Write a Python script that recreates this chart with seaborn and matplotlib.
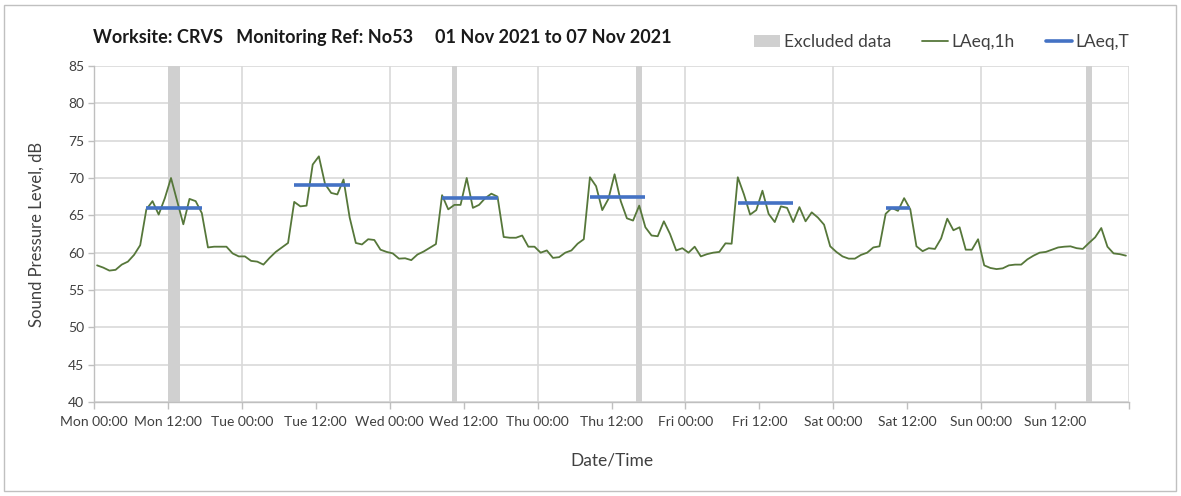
import numpy as np
import pandas as pd
import matplotlib
matplotlib.use("Agg")
import matplotlib.pyplot as plt
import seaborn as sns
from matplotlib.patches import Patch, Rectangle
from matplotlib.lines import Line2D

# ---------------- data ----------------
days = ["Mon", "Tue", "Wed", "Thu", "Fri", "Sat", "Sun"]

laeq_1h = [
    # Mon
    58.3, 58.0, 57.6, 57.7, 58.4, 58.8, 59.7, 61.0, 65.8, 66.9, 65.1, 67.3,
    70.0, 66.9, 63.8, 67.2, 66.9, 65.3, 60.7, 60.8, 60.8, 60.8, 59.9, 59.5,
    # Tue
    59.5, 58.9, 58.8, 58.4, 59.3, 60.1, 60.7, 61.3, 66.8, 66.2, 66.3, 71.8,
    72.9, 69.2, 68.0, 67.8, 69.8, 64.7, 61.3, 61.1, 61.8, 61.7, 60.4, 60.1,
    # Wed
    59.9, 59.2, 59.25, 59.0, 59.75, 60.15, 60.65, 61.15, 67.7, 65.8, 66.4, 66.4,
    70.0, 66.0, 66.4, 67.3, 67.9, 67.5, 62.1, 62.0, 62.0, 62.3, 60.8, 60.8,
    # Thu
    60.0, 60.3, 59.3, 59.4, 60.0, 60.3, 61.2, 61.8, 70.1, 68.9, 65.7, 67.2,
    70.5, 66.9, 64.6, 64.3, 66.3, 63.4, 62.3, 62.2, 64.2, 62.5, 60.3, 60.6,
    # Fri
    60.0, 60.8, 59.5, 59.8, 60.0, 60.1, 61.25, 61.2, 70.1, 67.8, 65.1, 65.7,
    68.3, 65.2, 64.1, 66.2, 66.0, 64.1, 66.1, 64.2, 65.4, 64.7, 63.75, 60.85,
    # Sat
    60.1, 59.5, 59.2, 59.2, 59.7, 60.0, 60.7, 60.85, 65.2, 66.0, 65.6, 67.3,
    65.8, 60.85, 60.2, 60.6, 60.5, 61.9, 64.55, 63.0, 63.4, 60.4, 60.4, 61.8,
    # Sun
    58.3, 57.95, 57.8, 57.9, 58.3, 58.4, 58.4, 59.1, 59.6, 60.0, 60.1, 60.4,
    60.7, 60.8, 60.85, 60.6, 60.5, 61.3, 62.05, 63.3, 60.8, 59.9, 59.8, 59.6,
]

excluded_hours = [12, 13, 58, 88, 161]

period_start = [8, 32, 56, 80, 104, 128]
period_end = [17, 41, 65, 89, 113, 132]
laeq_t = [66.0, 69.1, 67.35, 67.45, 66.65, 66.0]

major_labels = [f"{d} 00:00" for d in days] + [""]
minor_labels = [f"{d} 12:00" for d in days]

title = "Worksite: CRVS   Monitoring Ref: No53     01 Nov 2021 to 07 Nov 2021"

# ---------------- style ----------------
sns.set_theme(style="white")
plt.rcParams["font.family"] = ["Lato", "DejaVu Sans"]

W, H = 1181, 496
fig = plt.figure(figsize=(W / 100, H / 100), dpi=100)
ax = fig.add_axes([94 / W, 1 - 402 / H, (1129 - 94) / W, (402 - 66) / H])

GREEN = "#56773a"
BLUE = "#4472c4"
GREY = "#d0d0d0"
GRID = "#d9d9d9"
TXT = "#404040"

# excluded data bars
ax.bar(np.array(excluded_hours) + 0.5, 45, bottom=40, width=0.9,
       color=GREY, zorder=1, linewidth=0)

# hourly LAeq
df = pd.DataFrame({"t": np.arange(len(laeq_1h)) + 0.5, "v": laeq_1h})
sns.lineplot(data=df, x="t", y="v", ax=ax, color=GREEN, lw=1.3, zorder=3)

# period LAeq,T
rows = []
for k, (s, e, v) in enumerate(zip(period_start, period_end, laeq_t)):
    rows.append({"t": s + 0.5, "v": v, "p": k})
    rows.append({"t": e + 0.5, "v": v, "p": k})
dft = pd.DataFrame(rows)
sns.lineplot(data=dft, x="t", y="v", units="p", estimator=None, ax=ax,
             color=BLUE, lw=2.6, zorder=4, solid_capstyle="butt")

ax.set_xlim(0, 168)
ax.set_ylim(40, 85)
ax.set_yticks(np.arange(40, 86, 5))
ax.set_xticks(np.arange(0, 169, 24))
ax.set_xticklabels(major_labels)
ax.set_xticks(np.arange(12, 168, 24), minor=True)
ax.set_xticklabels(minor_labels, minor=True)

ax.grid(True, which="major", axis="both", color=GRID, lw=1.2, zorder=0)
ax.grid(False, which="minor")
ax.set_axisbelow(True)

for sp in ["top", "right"]:
    ax.spines[sp].set_visible(False)
for sp in ["left", "bottom"]:
    ax.spines[sp].set_color("#bfbfbf")
    ax.spines[sp].set_linewidth(1.0)

ax.tick_params(axis="x", which="both", direction="out", length=5, width=1,
               color="#bfbfbf", labelsize=10, labelcolor=TXT, pad=5,
               bottom=True)
ax.tick_params(axis="y", which="major", direction="out", length=4, width=1,
               color="#bfbfbf", labelsize=10, labelcolor=TXT, pad=3, left=True)

ax.set_xlabel("Date/Time", fontsize=12.5, color=TXT)
ax.set_ylabel("Sound Pressure Level, dB", fontsize=12, color=TXT)
ax.xaxis.set_label_coords((612 - 94) / 1035, (402 - 453) / 336)
ax.yaxis.set_label_coords((45 - 94) / 1035, 0.5)

fig.text(93 / W, 1 - 37 / H, title, fontsize=13, fontweight="bold",
         color="#1a1a1a", ha="left", va="center")

handles = [
    Patch(facecolor=GREY, edgecolor="none", label="Excluded data"),
    Line2D([0], [0], color=GREEN, lw=1.3, label="LAeq,1h"),
    Line2D([0], [0], color=BLUE, lw=2.6, label="LAeq,T"),
]
fig.legend(handles=handles, loc="center right",
           bbox_to_anchor=(1145 / W, 1 - 42 / H), ncol=3, frameon=False,
           fontsize=12.5, handlelength=1.5, handletextpad=0.2,
           columnspacing=1.8, labelcolor=TXT)

fig.add_artist(Rectangle((4 / W, 5 / H), (1176 - 4) / W, (491 - 5) / H,
                         transform=fig.transFigure, fill=False,
                         edgecolor="#c0c0c0", lw=1.0))

fig.savefig("out.png", dpi=100)
